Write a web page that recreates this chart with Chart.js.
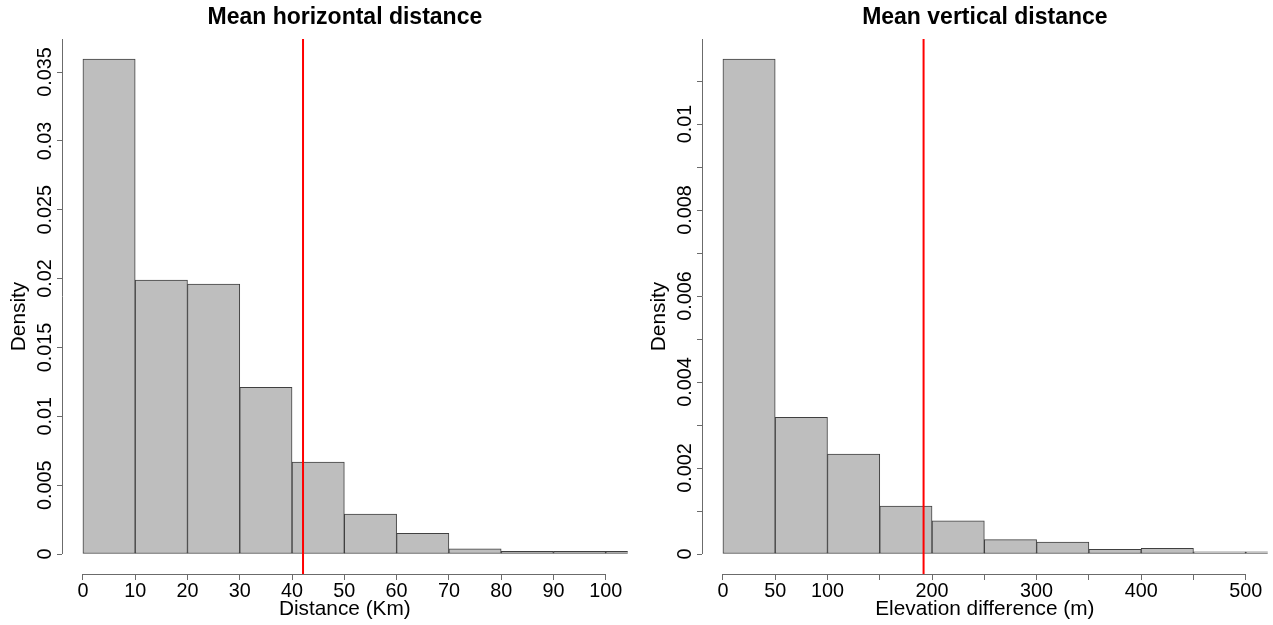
<!DOCTYPE html>
<html>
<head>
<meta charset="utf-8">
<title>Mean distances</title>
<script src="https://cdn.jsdelivr.net/npm/chart.js@4.4.1/dist/chart.umd.min.js"></script>
<style>
  body { margin: 0; background: #fff; overflow: hidden; }
  .panel { position: absolute; top: 0; width: 640px; height: 625px; }
  #leftPanel { left: 0; }
  #rightPanel { left: 640px; }
</style>
</head>
<body>
<div class="panel" id="leftPanel"><canvas id="hChart" width="640" height="625"></canvas></div>
<div class="panel" id="rightPanel"><canvas id="vChart" width="640" height="625"></canvas></div>
<script>
// horizontal distance histogram (bin edges in Km, density per bin)
const hBreaks = [0, 10, 20, 30, 40, 50, 60, 70, 80, 90, 100, 110];
const hDensity = [0.03595, 0.0199, 0.0196, 0.0121, 0.00668, 0.0029, 0.0015, 0.00038, 0.0002, 0.0002, 0.0002];
const hMean = 42.1;
const hXTicks = [0, 10, 20, 30, 40, 50, 60, 70, 80, 90, 100];
const hXLabels = ["0", "10", "20", "30", "40", "50", "60", "70", "80", "90", "100"];
const hYTicks = [0, 0.005, 0.01, 0.015, 0.02, 0.025, 0.03, 0.035];
const hYLabels = ["0", "0.005", "0.01", "0.015", "0.02", "0.025", "0.03", "0.035"];

// vertical distance histogram (bin edges in m)
const vBreaks = [0, 50, 100, 150, 200, 250, 300, 350, 400, 450, 500, 550];
const vDensity = [0.011512, 0.003179, 0.002326, 0.001116, 0.000774, 0.000335, 0.000279, 0.000109, 0.000133, 0.000053, 0.000053];
const vMean = 191.9;
const vXTicks = [0, 50, 100, 150, 200, 250, 300, 350, 400, 450, 500];
const vXLabels = ["0", "50", "100", "", "200", "", "300", "", "400", "", "500"];
const vYTicks = [0, 0.001, 0.002, 0.003, 0.004, 0.005, 0.006, 0.007, 0.008, 0.009, 0.01, 0.011];
const vYLabels = ["0", "", "0.002", "", "0.004", "", "0.006", "", "0.008", "", "0.01", ""];

const FONT = '"Liberation Sans", Arial, Helvetica, sans-serif';
const AXIS_COLOR = "#6b6b6b";
const TICK_SIZE = 19.8;
const LAB_SIZE = 20.8;

// R-style axes: y line from 0 up, x line between first and last tick,
// labels on the y axis turned parallel to it
const rAxes = {
  id: "rAxes",
  afterDraw(chart, args, opts) {
    const { ctx, chartArea } = chart;
    const xs = chart.scales.x;
    const ys = chart.scales.y;
    const ax = Math.round(chartArea.left - 0.5) + 0.5;
    const ay = Math.round(chartArea.bottom - 0.5) + 0.5;
    ctx.save();
    ctx.strokeStyle = AXIS_COLOR;
    ctx.lineWidth = 1;
    ctx.beginPath();
    ctx.moveTo(ax, ys.getPixelForValue(0));
    ctx.lineTo(ax, chartArea.top);
    ctx.moveTo(xs.getPixelForValue(opts.xTicks[0]), ay);
    ctx.lineTo(xs.getPixelForValue(opts.xTicks[opts.xTicks.length - 1]), ay);
    ctx.stroke();

    ctx.fillStyle = "#000";
    ctx.font = TICK_SIZE + "px " + FONT;
    ctx.textAlign = "center";
    ctx.textBaseline = "alphabetic";
    opts.yTicks.forEach((v, i) => {
      if (!opts.yLabels[i]) return;
      ctx.save();
      ctx.translate(chartArea.left - 11, ys.getPixelForValue(v));
      ctx.rotate(-Math.PI / 2);
      ctx.fillText(opts.yLabels[i], 0, 0);
      ctx.restore();
    });

    ctx.font = LAB_SIZE + "px " + FONT;
    ctx.translate(25, (chartArea.top + chartArea.bottom) / 2 + 10);
    ctx.rotate(-Math.PI / 2);
    ctx.fillText(opts.yTitle, 0, 0);
    ctx.restore();
  }
};

function drawHist(canvasId, breaks, density, mean, axes) {
  const bars = density.map((d, i) => ({ x: (breaks[i] + breaks[i + 1]) / 2, y: d }));
  return new Chart(document.getElementById(canvasId), {
    type: "bar",
    data: {
      datasets: [
        {
          type: "line",
          data: [{ x: mean, y: axes.yMin }, { x: mean, y: axes.yMax }],
          borderColor: "#ff0000",
          borderWidth: 2,
          pointRadius: 0,
          clip: 0,
          order: 0
        },
        {
          data: bars,
          backgroundColor: "#bebebe",
          borderColor: "#404040",
          borderWidth: 1,
          borderSkipped: false,
          barPercentage: 1,
          categoryPercentage: 1,
          clip: 0,
          order: 1
        }
      ]
    },
    options: {
      responsive: false,
      animation: false,
      layout: { padding: { right: 12.3 } },
      plugins: {
        legend: { display: false },
        tooltip: { enabled: false },
        title: {
          display: true,
          text: axes.title,
          fullSize: false,
          color: "#000",
          font: { family: FONT, size: 23, weight: "bold", lineHeight: 1.2 },
          padding: { top: 3.6, bottom: 7.8 }
        },
        rAxes: { xTicks: axes.xTicks, yTicks: axes.yTicks, yLabels: axes.yLabels, yTitle: "Density" }
      },
      scales: {
        x: {
          type: "linear",
          min: axes.xMin,
          max: axes.xMax,
          offset: false,
          grid: { offset: false, drawOnChartArea: false, drawTicks: true, tickLength: 6, color: AXIS_COLOR },
          border: { display: false },
          ticks: {
            autoSkip: false,
            maxRotation: 0,
            padding: 0,
            color: "#000",
            font: { family: FONT, size: TICK_SIZE },
            callback: (v, i) => axes.xLabels[i]
          },
          afterBuildTicks: (s) => { s.ticks = axes.xTicks.map((v) => ({ value: v })); },
          afterFit: (s) => { s.height = 51; },
          title: {
            display: true,
            text: axes.xTitle,
            color: "#000",
            font: { family: FONT, size: LAB_SIZE, lineHeight: 1.2 },
            padding: { top: 0, bottom: 3.5 }
          }
        },
        y: {
          type: "linear",
          min: axes.yMin,
          max: axes.yMax,
          bounds: "data",
          grid: { drawOnChartArea: false, drawTicks: true, tickLength: 5, color: AXIS_COLOR },
          border: { display: false },
          ticks: { display: false },
          afterBuildTicks: (s) => { s.ticks = axes.yTicks.map((v) => ({ value: v })); },
          afterFit: (s) => { s.width = 62; }
        }
      }
    },
    plugins: [rAxes]
  });
}

drawHist("hChart", hBreaks, hDensity, hMean, {
  title: "Mean horizontal distance",
  xTitle: "Distance (Km)",
  xMin: -4, xMax: 104.2,
  yMin: -0.001452, yMax: 0.0374,
  xTicks: hXTicks, xLabels: hXLabels,
  yTicks: hYTicks, yLabels: hYLabels
});

drawHist("vChart", vBreaks, vDensity, vMean, {
  title: "Mean vertical distance",
  xTitle: "Elevation difference (m)",
  xMin: -20, xMax: 521,
  yMin: -0.000465, yMax: 0.011977,
  xTicks: vXTicks, xLabels: vXLabels,
  yTicks: vYTicks, yLabels: vYLabels
});
</script>
</body>
</html>
